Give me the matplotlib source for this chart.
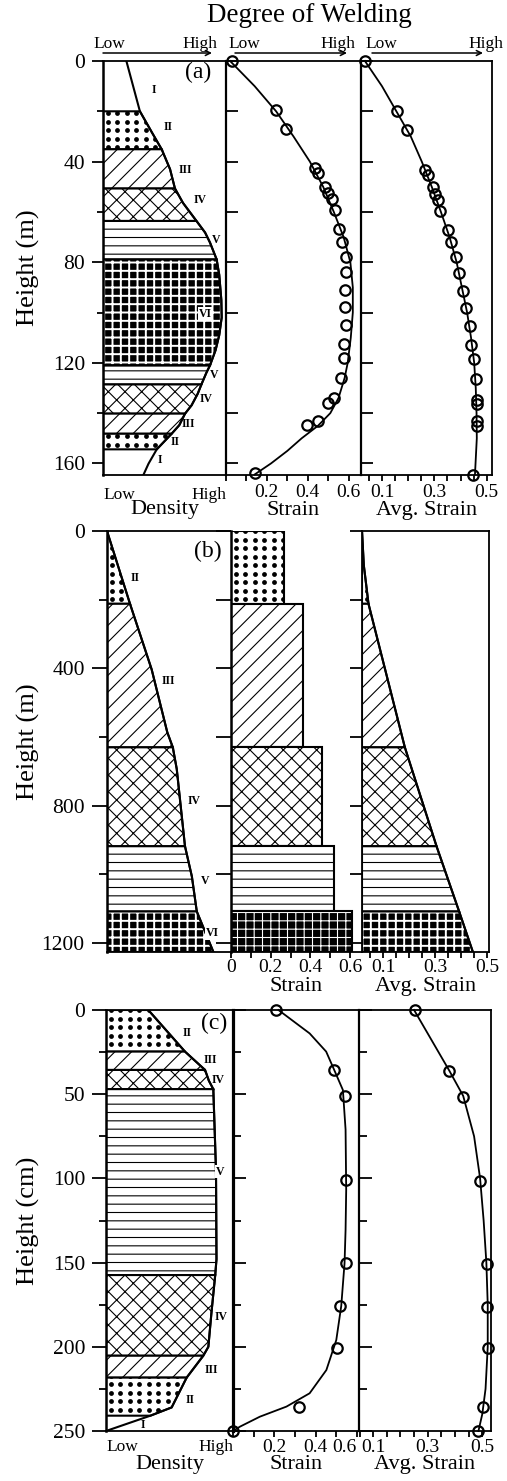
import numpy as np
import matplotlib
matplotlib.use("Agg")
import matplotlib.pyplot as plt
from matplotlib.patches import Polygon

plt.rcParams['font.family'] = ['Liberation Serif', 'DejaVu Serif']
plt.rcParams['hatch.linewidth'] = 0.8
plt.rcParams['axes.linewidth'] = 1.3

W, H = 507, 1481

# ---------------- (a) height in m, density 0 (low) .. 1 (high)
zone_a_bounds = [0, 20, 35.1, 50.7, 63.6, 78.9, 121, 128.6, 140.2, 148.2, 154.4, 164.4]
zone_a_names = ['I', 'II', 'III', 'IV', 'V', 'VI', 'V', 'IV', 'III', 'II', 'I']
dens_a_h = [0, 20, 28.6, 35.1, 43, 50.7, 56.4, 63.6, 68.2, 72.2, 78.9, 85, 95, 102, 109,
            115, 121, 124, 128.6, 132.3, 136.9, 140.2, 144.8, 148.2, 154.4, 160.1, 164.4]
dens_a_d = [0.19, 0.30, 0.40, 0.477, 0.545, 0.585, 0.65, 0.76, 0.83, 0.87, 0.924, 0.945,
            0.962, 0.965, 0.945, 0.915, 0.87, 0.84, 0.80, 0.77, 0.72, 0.667, 0.62, 0.558,
            0.437, 0.37, 0.33]
strain_a_h = [0, 19.5, 27, 42.7, 44.7, 50, 52.4, 54.9, 59.3, 66.6, 71.9, 77.9, 83.9, 90.9,
              98, 105.1, 112.6, 117.9, 126, 134, 136, 143.2, 144.9, 164]
strain_a_v = [0.03, 0.245, 0.295, 0.435, 0.45, 0.484, 0.50, 0.517, 0.533, 0.55, 0.566, 0.588,
              0.588, 0.583, 0.583, 0.588, 0.579, 0.579, 0.561, 0.528, 0.50, 0.451, 0.398, 0.143]
strain_a_fit_h = [0, 10, 20, 30, 40, 50, 60, 70, 80, 90, 100, 110, 120, 126, 134, 140, 145,
                  150, 155, 160, 164.4]
strain_a_fit_v = [0.02, 0.14, 0.245, 0.33, 0.41, 0.475, 0.527, 0.575, 0.608, 0.62, 0.62, 0.61,
                  0.595, 0.58, 0.55, 0.51, 0.45, 0.37, 0.30, 0.22, 0.14]
avg_a_h = [0, 19.9, 27.5, 43.4, 45.4, 50, 52.7, 55.3, 59.7, 67.3, 71.9, 77.9, 84.3, 91.4, 98.4,
           105.5, 113, 118.3, 126.6, 134.9, 136.5, 143.2, 145.2, 164.4]
avg_a_v = [0.037, 0.157, 0.197, 0.265, 0.274, 0.293, 0.304, 0.313, 0.322, 0.351, 0.364, 0.381,
           0.393, 0.409, 0.422, 0.435, 0.441, 0.45, 0.46, 0.463, 0.463, 0.463, 0.463, 0.447]
avg_a_fit_h = [0, 10, 20, 30, 40, 50, 60, 70, 80, 90, 100, 110, 120, 130, 140, 150, 164.4]
avg_a_fit_v = [0.035, 0.10, 0.155, 0.21, 0.252, 0.29, 0.325, 0.358, 0.385, 0.405, 0.425, 0.44,
               0.452, 0.458, 0.461, 0.462, 0.455]

# ---------------- (b) height in m
zone_b_bounds = [0, 212, 630, 918, 1108, 1226]
zone_b_names = ['II', 'III', 'IV', 'V', 'VI']
dens_b_h = [0, 212, 403, 586, 630, 693, 918, 1006, 1108, 1226]
dens_b_d = [0.0, 0.187, 0.363, 0.49, 0.535, 0.567, 0.634, 0.69, 0.73, 0.865]
strain_b_v = [0.266, 0.362, 0.456, 0.52, 0.608]
avg_b_h = [0, 100, 212, 630, 918, 1108, 1226]
avg_b_v = [0.018, 0.025, 0.043, 0.183, 0.305, 0.392, 0.445]

# ---------------- (c) height in cm
zone_c_bounds = [0, 24.7, 35.6, 47, 157.4, 205.3, 218.3, 240.9, 250]
zone_c_names = ['II', 'III', 'IV', 'V', 'IV', 'III', 'II', 'I']
dens_c_h = [0, 24.7, 35.6, 42, 47, 95, 148, 157.4, 180, 200, 205.3, 218.3, 236, 240.9, 250]
dens_c_d = [0.333, 0.622, 0.78, 0.81, 0.845, 0.866, 0.87, 0.86, 0.83, 0.806, 0.766, 0.635,
            0.517, 0.35, 0.0]
strain_c_h = [0, 35.6, 51, 101, 150.4, 175.8, 200.5, 235.5, 250]
strain_c_v = [0.21, 0.49, 0.54, 0.545, 0.545, 0.519, 0.503, 0.32, 0.0]
strain_c_fit_h = [0, 13.9, 24.7, 35.6, 47.5, 71, 107, 130.6, 150.4, 175.8, 196, 213.8, 227.6,
                  235.5, 241.5, 247.4, 250]
strain_c_fit_v = [0.22, 0.371, 0.451, 0.49, 0.532, 0.545, 0.548, 0.545, 0.54, 0.524, 0.50,
                  0.452, 0.371, 0.259, 0.13, 0.034, 0.0]
avg_c_h = [0, 36.2, 51.5, 101.4, 151, 176.2, 200.9, 235.9, 250]
avg_c_v = [0.253, 0.379, 0.43, 0.492, 0.516, 0.519, 0.522, 0.504, 0.486]
avg_c_fit_h = [0, 36, 51, 75, 100, 125, 150, 175, 200, 225, 240, 250]
avg_c_fit_v = [0.25, 0.379, 0.43, 0.47, 0.492, 0.505, 0.515, 0.52, 0.52, 0.512, 0.50, 0.486]

strain_ticks = [0, 0.1, 0.2, 0.3, 0.4, 0.5, 0.6]
avg_ticks = [0.05, 0.1, 0.15, 0.2, 0.25, 0.3, 0.35, 0.4, 0.45, 0.5]
avg_labels = ['', '0.1', '', '', '', '0.3', '', '', '', '0.5']

HATCH = {'III': '//', 'IV': 'xx', 'V': '--'}

fig = plt.figure(figsize=(W / 100, H / 100), dpi=100)


def add(x0, y0, x1, y1):
    # axes from a pixel box (top-left origin)
    return fig.add_axes([x0 / W, 1 - y1 / H, (x1 - x0) / W, (y1 - y0) / H])


def zone_poly(h, v, h0, h1, base):
    h = np.asarray(h, float)
    v = np.asarray(v, float)
    inside = (h > h0) & (h < h1)
    xs = [base, np.interp(h0, h, v)] + list(v[inside]) + [np.interp(h1, h, v), base]
    ys = [h0, h0] + list(h[inside]) + [h1, h1]
    return np.column_stack([xs, ys])


def dots(ax, patch, dx=9.5, dy=8.5):
    # dotted texture, clipped to the zone patch
    bw, bh = ax.bbox.width, ax.bbox.height
    gx, gy = np.meshgrid(np.arange(dx / 2, bw, dx) / bw, np.arange(dy / 2, bh, dy) / bh)
    sc = ax.scatter(gx.ravel(), gy.ravel(), s=12, c='black', linewidths=0,
                    transform=ax.transAxes, zorder=1.5)
    sc.set_clip_path(patch)


def draw_zones(ax, bounds, names, h, v, base):
    for i, name in enumerate(names):
        if name == 'I':
            continue
        verts = zone_poly(h, v, bounds[i], bounds[i + 1], base)
        if name == 'VI':
            with plt.rc_context({'hatch.linewidth': 1.4}):
                ax.add_patch(Polygon(verts, closed=True, facecolor='black', edgecolor='white',
                                     hatch='++', lw=0, zorder=1))
            ax.add_patch(Polygon(verts, closed=True, fill=False, edgecolor='black', lw=1.5,
                                 zorder=2))
            continue
        p = Polygon(verts, closed=True, facecolor='white', edgecolor='black', lw=1.5, zorder=1)
        ax.add_patch(p)
        if name == 'II':
            dots(ax, p)
        else:
            p.set_hatch(HATCH[name])


def zone_labels(ax, names, pos, boxed):
    for i, (name, (lh, ld)) in enumerate(zip(names, pos)):
        kw = {}
        if i in boxed:
            kw['bbox'] = dict(facecolor='white', edgecolor='none', pad=0.6)
        ax.text(ld, lh, name, fontsize=8.5, fontweight='bold', ha='center', va='center',
                zorder=6, **kw)


def label_at(ax, text, top_px, bottom_px, height_px):
    ax.set_xlabel(text, fontsize=16)
    ax.xaxis.set_label_coords(0.5, -(top_px - bottom_px) / height_px)


def curve(ax, v, h, fv, fh):
    ax.plot(fv, fh, color='black', lw=1.3, zorder=3, clip_on=False)
    ax.plot(v, h, 'o', mfc='none', mec='black', ms=7.5, mew=1.6, zorder=4, clip_on=False)


# =============================== panel (a)
ya0, ya1 = 61, 474.5
ad = add(103, ya0, 226, ya1)
as_ = add(226, ya0, 361, ya1)
av = add(361, ya0, 492, ya1)
for ax in (ad, as_, av):
    ax.set_ylim(164.4, 0)

ad.set_xlim(0, 1)
draw_zones(ad, zone_a_bounds, zone_a_names, dens_a_h, dens_a_d, 0)
ad.plot(dens_a_d, dens_a_h, color='black', lw=1.5, zorder=3)
zone_labels(ad, zone_a_names,
            [(11.6, .41), (26.1, .53), (43.4, .67), (55.3, .79), (71.2, .92), (100.4, .83),
             (125, .90), (134.3, .84), (144.2, .69), (151.5, .585), (158.8, .46)], {5})
ad.text(0.77, 0.973, '(a)', transform=ad.transAxes, fontsize=17, ha='center', va='center')
ad.set_yticks([0, 40, 80, 120, 160])
ad.set_yticks([20, 60, 100, 140], minor=True)
ad.tick_params(axis='y', which='major', length=8, width=1.3, labelsize=15.5, pad=5)
ad.tick_params(axis='y', which='minor', length=4.5, width=1.3)
ad.set_xticks([0, 1], ['Low', 'High'])
ad.tick_params(axis='x', length=0, labelsize=12.5, pad=9)
ad.get_xticklabels()[0].set_ha('left')
ad.get_xticklabels()[1].set_ha('right')
ad.spines['right'].set_visible(False)
ad.spines['left'].set_linewidth(1.8)
ad.set_ylabel('Height (m)', fontsize=19)
ad.yaxis.set_label_coords(-0.512, 0.5)
label_at(ad, 'Density', 500, ya1, ya1 - ya0)

as_.set_xlim(0, 0.66)
curve(as_, strain_a_v, strain_a_h, strain_a_fit_v, strain_a_fit_h)
as_.set_xticks(strain_ticks, ['', '', '0.2', '', '0.4', '', '0.6'])
label_at(as_, 'Strain', 501, ya1, ya1 - ya0)

av.set_xlim(0.02, 0.52)
curve(av, avg_a_v, avg_a_h, avg_a_fit_v, avg_a_fit_h)
av.set_xticks(avg_ticks, avg_labels)
label_at(av, 'Avg. Strain', 501, ya1, ya1 - ya0)

for ax in (as_, av):
    ax.set_yticks(np.arange(0, 161, 20))
    ax.tick_params(axis='y', direction='in', length=8.5, width=1.3, labelleft=False)
    ax.tick_params(axis='x', length=4.5, width=1.3, labelsize=14, pad=2)
as_.spines['right'].set_visible(False)
as_.spines['left'].set_linewidth(1.6)
av.spines['left'].set_linewidth(1.6)


def fxy(px, py):
    return px / W, 1 - py / H


for lo, hi, a0, a1 in [(109, 199.5, 103, 212), (244, 337.5, 235, 347), (381, 485.5, 372, 483)]:
    fig.text(*fxy(lo, 44), 'Low', fontsize=12.5, ha='center', va='center')
    fig.text(*fxy(hi, 44), 'High', fontsize=12.5, ha='center', va='center')
    ad.annotate('', xy=fxy(a1, 53), xytext=fxy(a0, 53), xycoords='figure fraction',
                textcoords='figure fraction', annotation_clip=False,
                arrowprops=dict(arrowstyle='->', lw=1.1, color='black', mutation_scale=9,
                                shrinkA=0, shrinkB=0))
fig.text(*fxy(309, 15), 'Degree of Welding', fontsize=19.5, ha='center', va='center')

# =============================== panel (b)
yb0, yb1 = 531, 952
bd = add(107, yb0, 230, yb1)
bs = add(231, yb0, 362, yb1)
bv = add(362, yb0, 489, yb1)
for ax in (bd, bs, bv):
    ax.set_ylim(1226, 0)

bd.set_xlim(0, 1)
draw_zones(bd, zone_b_bounds, zone_b_names, dens_b_h, dens_b_d, 0)
bd.plot(dens_b_d, dens_b_h, color='black', lw=1.5, zorder=3)
zone_labels(bd, zone_b_names,
            [(138, .23), (438, .50), (786, .71), (1020, .80), (1171, .86)], {4})
bd.text(0.82, 0.952, '(b)', transform=bd.transAxes, fontsize=17, ha='center', va='center')
bd.set_yticks([0, 400, 800, 1200])
bd.set_yticks([200, 600, 1000], minor=True)
bd.tick_params(axis='y', which='major', length=11, width=1.3, labelsize=15.5, pad=5)
bd.tick_params(axis='y', which='minor', length=6, width=1.3)
bd.set_xticks([])
bd.spines['right'].set_visible(False)
bd.spines['left'].set_linewidth(1.8)
bd.set_ylabel('Height (m)', fontsize=19)
bd.yaxis.set_label_coords(-0.545, 0.5)

bs.set_xlim(0, 0.66)
centers = [(zone_b_bounds[i] + zone_b_bounds[i + 1]) / 2 for i in range(len(zone_b_names))]
thick = np.diff(zone_b_bounds)
bars = bs.barh(centers, strain_b_v, height=thick, left=0, color='white', edgecolor='black',
               linewidth=1.5, zorder=1)
for rect, name in zip(bars.patches, zone_b_names):
    if name == 'VI':
        rect.set_facecolor('black')
        rect.set_edgecolor('white')
        rect.set_linewidth(0)
        rect.set_hatch('++')
        bs.barh(centers[-1], strain_b_v[-1], height=thick[-1], left=0, fill=False,
                edgecolor='black', linewidth=1.5, zorder=2)
    elif name == 'II':
        dots(bs, rect)
    else:
        rect.set_hatch(HATCH[name])
bs.set_xticks(strain_ticks, ['0', '', '0.2', '', '0.4', '', '0.6'])
bs.spines['top'].set_visible(False)
bs.spines['right'].set_visible(False)
bs.spines['left'].set_linewidth(1.8)
bs.set_yticks(np.arange(0, 1201, 200))
bs.tick_params(axis='y', direction='out', length=11, width=1.3, labelleft=False)
label_at(bs, 'Strain', 977, yb1, yb1 - yb0)

bv.set_xlim(0.018, 0.507)
draw_zones(bv, zone_b_bounds, zone_b_names, avg_b_h, avg_b_v, 0.018)
bv.plot(avg_b_v, avg_b_h, color='black', lw=1.5, zorder=3)
bv.set_xticks(avg_ticks, avg_labels)
bv.set_yticks(np.arange(0, 1201, 200))
bv.tick_params(axis='y', direction='out', length=9, width=1.3, labelleft=False)
label_at(bv, 'Avg. Strain', 977, yb1, yb1 - yb0)
for ax in (bs, bv):
    ax.tick_params(axis='x', length=4, width=1.3, labelsize=14, pad=1)

# =============================== panel (c)
yc0, yc1 = 1010, 1431
cd = add(106, yc0, 233, yc1)
cs = add(233, yc0, 359, yc1)
cv = add(359, yc0, 491, yc1)
for ax in (cd, cs, cv):
    ax.set_ylim(250, 0)

cd.set_xlim(0, 1)
draw_zones(cd, zone_c_bounds, zone_c_names, dens_c_h, dens_c_d, 0)
cd.plot(dens_c_d, dens_c_h, color='black', lw=1.5, zorder=3)
zone_labels(cd, zone_c_names,
            [(13.9, .64), (29.7, .82), (41.6, .885), (96, .90), (182.5, .91), (213.8, .83),
             (231.6, .66), (246.4, .29)], {3})
cd.text(0.85, 0.967, '(c)', transform=cd.transAxes, fontsize=17, ha='center', va='center')
cd.set_yticks([0, 50, 100, 150, 200, 250])
cd.set_yticks([25, 75, 125, 175, 225], minor=True)
cd.tick_params(axis='y', which='major', length=10, width=1.3, labelsize=15.5, pad=5)
cd.tick_params(axis='y', which='minor', length=5, width=1.3)
cd.set_xticks([0, 1], ['Low', 'High'])
cd.tick_params(axis='x', length=0, labelsize=12.5, pad=6)
cd.get_xticklabels()[0].set_ha('left')
cd.get_xticklabels()[1].set_ha('right')
cd.spines['right'].set_visible(False)
cd.spines['left'].set_linewidth(1.8)
cd.set_ylabel('Height (cm)', fontsize=19)
cd.yaxis.set_label_coords(-0.52, 0.5)
label_at(cd, 'Density', 1455, yc1, yc1 - yc0)

cs.set_xlim(0, 0.61)
curve(cs, strain_c_v, strain_c_h, strain_c_fit_v, strain_c_fit_h)
cs.set_xticks(strain_ticks, ['', '', '0.2', '', '0.4', '', '0.6'])
cs.get_xticklabels()[-1].set_ha('right')
label_at(cs, 'Strain', 1455, yc1, yc1 - yc0)

cv.set_xlim(0.048, 0.532)
curve(cv, avg_c_v, avg_c_h, avg_c_fit_v, avg_c_fit_h)
cv.set_xticks(avg_ticks, avg_labels)
label_at(cv, 'Avg. Strain', 1455, yc1, yc1 - yc0)

for ax in (cs, cv):
    ax.set_yticks([0, 50, 100, 150, 200, 250])
    ax.set_yticks([25, 75, 125, 175, 225], minor=True)
    ax.tick_params(axis='y', which='major', direction='in', length=9.5, width=1.3,
                   labelleft=False)
    ax.tick_params(axis='y', which='minor', direction='in', length=6, width=1.3)
    ax.tick_params(axis='x', length=4, width=1.3, labelsize=14, pad=2)
cs.spines['right'].set_visible(False)
cs.spines['left'].set_linewidth(2.3)
cv.spines['left'].set_linewidth(1.6)

fig.savefig('out.png', dpi=100, facecolor='white')
